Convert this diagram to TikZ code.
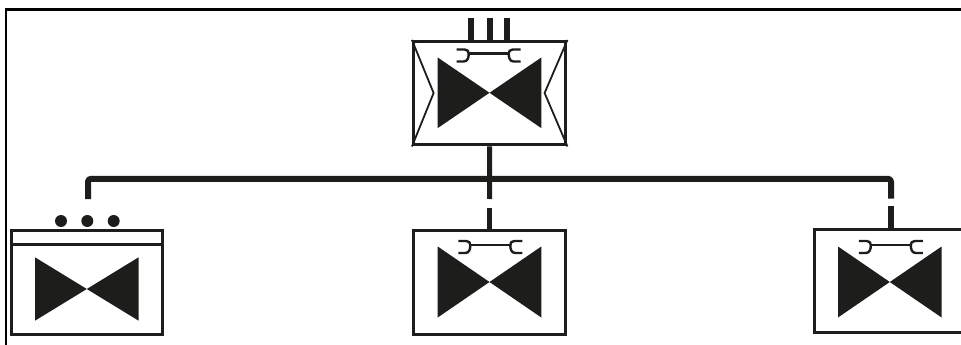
\documentclass[tikz,border=0pt]{standalone}
\definecolor{ink}{HTML}{1D1D1B}
\tikzset{
  symbox/.style={draw=ink,line width=3pt,fill=white,inner sep=0pt,minimum width=#1},
  wire/.style={draw=ink,line width=5pt},
  buswire/.style={draw=ink,line width=6pt,line join=round,rounded corners=3pt},
  framewire/.style={draw=black,line width=2.6pt},
  thinwire/.style={draw=ink,line width=1.8pt,line join=miter},
  wrenchline/.style={draw=ink,line width=2.4pt,line join=round},
  bowfill/.style={fill=ink,draw=none},
  dot/.style={circle,fill=ink,draw=none,minimum size=12pt,inner sep=0pt},
  pics/bowtie/.style={code={
    \fill[bowfill] (-51.8,-#1) -- (51.8,#1) -- (51.8,-#1) -- (-51.8,#1) -- cycle;
  }},
  pics/wrench/.style={code={
    \draw[wrenchline] (-32,-6) -- (-24,-6) .. controls (-21,-6) and (-20,-4) .. (-20,-1.8) .. controls (-20,2) and (-21,6) .. (-25,6) -- (-32,6);
    \draw[wrenchline] (32,-6) -- (24,-6) .. controls (21,-6) and (20,-4) .. (20,-1.8) .. controls (20,2) and (21,6) .. (25,6) -- (32,6);
    \draw[wrenchline] (-20,-1.8) -- (20,-1.8);
  }}
}
\begin{document}
\begin{tikzpicture}[x=1pt,y=-1pt]
\useasboundingbox (0,0) rectangle (961,345);
\clip (0,0) rectangle (961,345);
\fill[white] (0,0) rectangle (961,345);
% frame
\coordinate (frameBL) at (6,345);
\coordinate (frameTL) at (6,9.5);
\coordinate (frameTR) at (961,9.5);
\draw[framewire] (frameBL) -- (frameTL) -- (frameTR);
% boxes
\node[symbox=152.5pt,minimum height=103.5pt] (top) at (489.7,93.2) {};
\node[symbox=151.5pt,minimum height=104pt] (left) at (87.2,282) {};
\node[symbox=152.5pt,minimum height=104.3pt] (mid) at (489.5,282.8) {};
\node[symbox=152.5pt,minimum height=103.7pt] (right) at (890.5,281) {};
% divider on left box
\coordinate (divL) at (11.5,244.5);
\coordinate (divR) at (163,244.5);
\draw[draw=ink,line width=2.4pt] (divL) -- (divR);
% dots
\node[dot] (d1) at (61,221) {};
\node[dot] (d2) at (87.3,221) {};
\node[dot] (d3) at (113.7,221) {};
% chevrons in top box
\coordinate (chevL) at (433.6,93);
\coordinate (chevR) at (544.6,93);
\draw[thinwire] (top.north west) -- (chevL) -- (top.south west);
\draw[thinwire] (top.north east) -- (chevR) -- (top.south east);
% symbols
\pic at (489.5,92.8) {bowtie=35.3};
\pic at (86.8,289) {bowtie=31.7};
\pic at (489.5,282) {bowtie=35.5};
\pic at (889.8,282) {bowtie=35.5};
\pic at (488.7,55.5) {wrench};
\pic at (490.3,247) {wrench};
\pic at (890.8,247) {wrench};
% pipes above top box
\coordinate (p1) at (470.7,18);
\coordinate (p2) at (489.5,18);
\coordinate (p3) at (507.3,18);
\draw[wire,line width=6pt] (p1) -- (p1 |- top.north);
\draw[wire,line width=6pt] (p2) -- (p2 |- top.north);
\draw[wire,line width=6pt] (p3) -- (p3 |- top.north);
% bus
\coordinate (busL) at (88,178.8);
\coordinate (busR) at (891,178.8);
\coordinate (stubL) at (88,199);
\coordinate (stubR) at (891,198.5);
\coordinate (gapM1) at (489.5,199);
\coordinate (gapM2) at (489.5,207.5);
\coordinate (gapR2) at (891,206);
\draw[buswire] (stubL) -- (busL) -- (busR) -- (stubR);
\draw[wire] (top.south) -- (gapM1);
\draw[wire] (gapM2) -- (mid.north);
\draw[wire,line width=6pt] (gapR2) -- (gapR2 |- right.north);
\end{tikzpicture}
\end{document}
